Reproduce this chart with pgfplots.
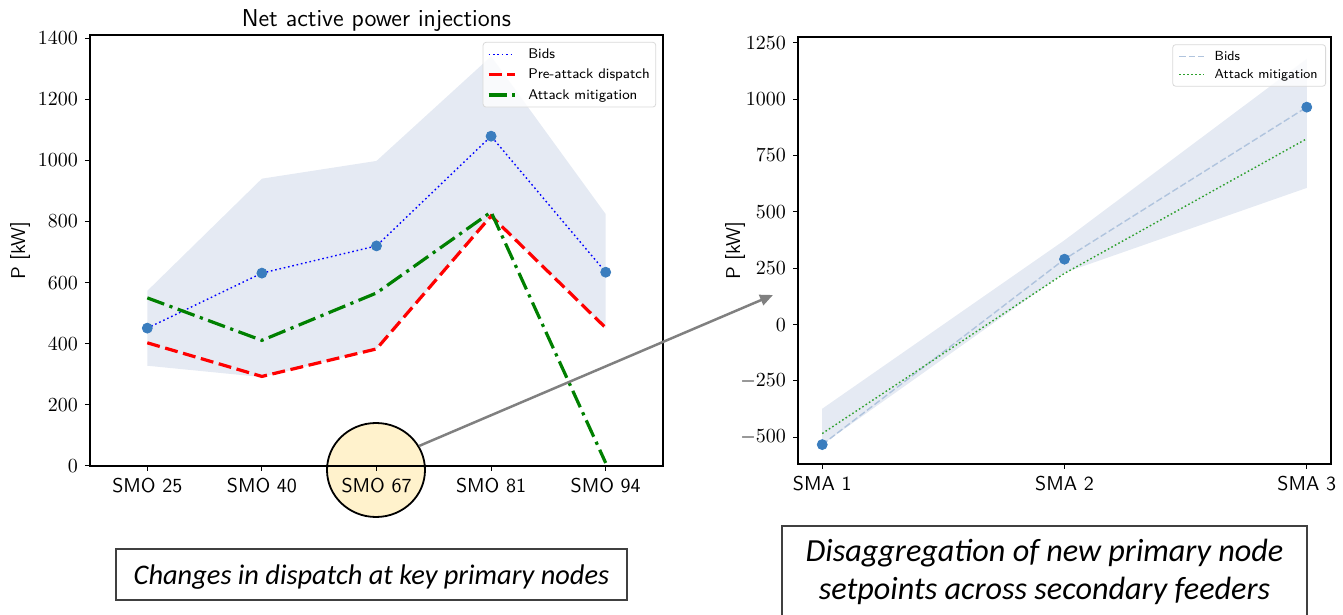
\documentclass[border=0pt]{standalone}
\usepackage{pgfplots}
\pgfplotsset{compat=1.18}
\usetikzlibrary{arrows.meta}
\usepackage{fontspec}
\newfontfamily\carlito{Carlito}
\definecolor{band}{HTML}{E5EAF3}
\definecolor{mk}{HTML}{3A7DBE}
\definecolor{ltblue}{HTML}{B0C4DE}
\definecolor{dgreen}{HTML}{008000}
\definecolor{mgreen}{HTML}{2CA02C}
\definecolor{circfill}{HTML}{FFF2CC}
\pgfplotsset{
  common/.style={
    scale only axis,
    axis line style={line width=0.6pt},
    tick align=outside,
    tick pos=left,
    major tick length=2.5pt,
    every tick/.style={black, line width=0.5pt},
    /pgf/number format/1000 sep={},
    yticklabel style={font=\fontsize{10.3}{12}\selectfont},
    xticklabel style={font=\sffamily\fontsize{10}{12}\selectfont},
    ylabel style={font=\sffamily\fontsize{10}{12}\selectfont},
    legend cell align=left,
  }
}
\begin{document}
\begin{tikzpicture}
\useasboundingbox (0,0) rectangle (671.5pt,307.5pt);
% highlight circle (behind the left axis)
\fill[circfill] (188pt,72.5pt) ellipse [x radius=24.5pt, y radius=23.5pt];
\draw[line width=0.9pt] (188pt,72.5pt) ellipse [x radius=24.5pt, y radius=23.5pt];

\begin{axis}[common,
  at={(45pt,74.5pt)}, anchor=south west,
  width=286.5pt, height=215.5pt,
  xmin=-0.5, xmax=4.5, ymin=0, ymax=1410,
  xtick={0,1,2,3,4},
  xticklabels={SMO 25,SMO 40,SMO 67,SMO 81,SMO 94},
  ytick={0,200,400,600,800,1000,1200,1400},
  ylabel={P [kW]},
  ylabel style={at={(rel axis cs:-0.122,0.5)}, anchor=center},
  legend image code/.code={\draw[#1] (0pt,0pt) -- (13pt,0pt);},
  legend style={at={(0.988,0.984)}, anchor=north east, draw=black!15, rounded corners=1.5pt,
    fill=white, fill opacity=0.8, text opacity=1,
    font=\sffamily\fontsize{7}{8.5}\selectfont,
    inner xsep=2pt, inner ysep=1.5pt,
    nodes={inner sep=1pt, text height=5.5pt, text depth=1.5pt},
    row sep=1.2pt,
    /tikz/every odd column/.append style={column sep=5pt}},
]
\addplot[fill=band, draw=none, forget plot] coordinates {
  (0,573) (1,940) (2,998) (3,1340) (4,824)
  (4,452) (3,818) (2,383) (1,291) (0,328)} -- cycle;
\addplot[blue, line width=0.7pt, dash pattern=on 0.8pt off 1.4pt] coordinates {
  (0,451) (1,631) (2,720) (3,1079) (4,634)};
\addlegendentry{Bids}
\addplot[red, line width=1.6pt, dash pattern=on 6.5pt off 2.8pt] coordinates {
  (0,403) (1,293) (2,383) (3,818) (4,452)};
\addlegendentry{Pre-attack dispatch}
\addplot[dgreen, line width=1.6pt, dash pattern=on 9pt off 2.8pt on 1.6pt off 2.8pt] coordinates {
  (0,550) (1,411) (2,566) (3,831) (4,10)};
\addlegendentry{Attack mitigation}
\addplot[only marks, mark=*, mark size=2.5pt, mark options={fill=mk, draw=mk}, forget plot] coordinates {
  (0,451) (1,631) (2,720) (3,1079) (4,634)};
\end{axis}

\begin{axis}[common,
  at={(399pt,75.5pt)}, anchor=south west,
  width=266.5pt, height=213.5pt,
  xmin=-0.1, xmax=2.1, ymin=-618, ymax=1275,
  xtick={0,1,2},
  xticklabels={SMA 1,SMA 2,SMA 3},
  ytick={-500,-250,0,250,500,750,1000,1250},
  ylabel={P [kW]},
  ylabel style={at={(rel axis cs:-0.118,0.5)}, anchor=center},
  legend image code/.code={\draw[#1] (0pt,0pt) -- (12.5pt,0pt);},
  legend style={at={(0.9906,0.983)}, anchor=north east, draw=black!15, rounded corners=1.5pt,
    fill=white, fill opacity=0.8, text opacity=1,
    font=\sffamily\fontsize{6.6}{8}\selectfont,
    inner xsep=3pt, inner ysep=1.5pt,
    nodes={inner sep=1pt, text height=5.2pt, text depth=1.4pt},
    row sep=0.6pt,
    /tikz/every odd column/.append style={column sep=3.8pt}},
]
\addplot[fill=band, draw=none, forget plot] coordinates {
  (0,-373) (1,374) (2,1178)
  (2,606) (1,230) (0,-532)} -- cycle;
\addplot[ltblue, line width=0.7pt, dash pattern=on 3.3pt off 1.4pt] coordinates {
  (0,-532) (1,290) (2,964)};
\addlegendentry{Bids}
\addplot[mgreen, line width=0.7pt, dash pattern=on 0.8pt off 1.2pt] coordinates {
  (0,-483) (1,227) (2,824)};
\addlegendentry{Attack mitigation}
\addplot[only marks, mark=*, mark size=2.5pt, mark options={fill=mk, draw=mk}, forget plot] coordinates {
  (0,-532) (1,290) (2,964)};
\end{axis}

% title of left panel
\node[font=\sffamily\fontsize{12.2}{14}\selectfont, anchor=base] at (188.25pt,294pt) {Net active power injections};

% arrow from circle to right panel
\draw[line width=1.25pt, black!50, -{Triangle[length=6.5pt, width=5.5pt]}] (209.5pt,84.5pt) -- (386.5pt,160pt);

% caption boxes
\draw[line width=0.6pt, black!75] (58pt,7.5pt) rectangle (313.5pt,33pt);
\node[font=\carlito\itshape\fontsize{14.2}{16}\selectfont, anchor=base] at (185.75pt,15.2pt) {Changes in dispatch at key primary nodes};
\draw[line width=0.6pt, black!75] (391pt,-2pt) -- (391pt,44.5pt) -- (653.5pt,44.5pt) -- (653.5pt,-2pt);
\node[font=\carlito\itshape\fontsize{16.1}{18}\selectfont, anchor=base] at (522.25pt,26.5pt) {Disaggregation of new primary node};
\node[font=\carlito\itshape\fontsize{16.1}{18}\selectfont, anchor=base] at (522.25pt,7.5pt) {setpoints across secondary feeders};
\end{tikzpicture}
\end{document}
